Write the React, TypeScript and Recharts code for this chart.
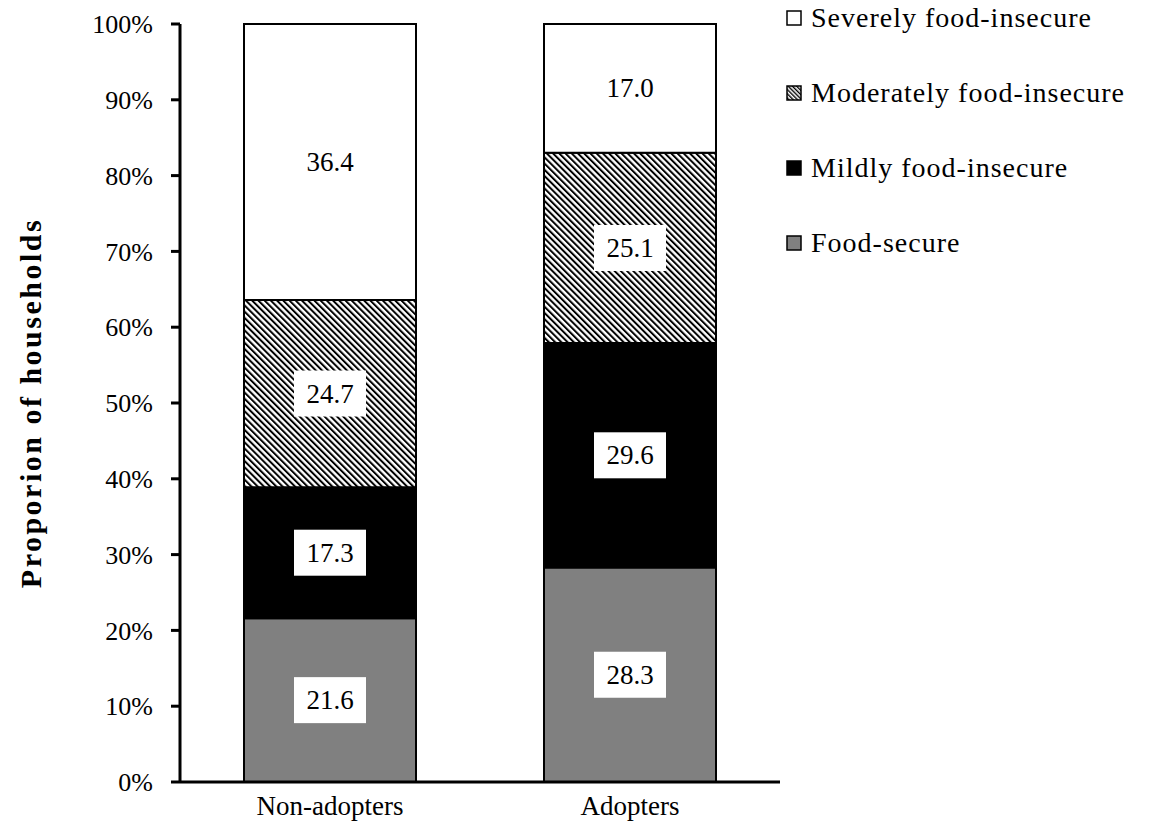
import { BarChart, Bar, XAxis, YAxis, Legend, LabelList } from 'recharts';

const groups = ['Non-adopters', 'Adopters'];
const foodSecure = [21.6, 28.3];
const mildlyInsecure = [17.3, 29.6];
const moderatelyInsecure = [24.7, 25.1];
const severelyInsecure = [36.4, 17.0];
const yTicks = [0, 10, 20, 30, 40, 50, 60, 70, 80, 90, 100];

const FONT = '"Liberation Serif", "DejaVu Serif", serif';

const rows = groups.map((name, i) => ({
  name,
  secure: foodSecure[i],
  mild: mildlyInsecure[i],
  moderate: moderatelyInsecure[i],
  severe: severelyInsecure[i],
}));

const legendItems = [
  { label: 'Severely food-insecure', fill: '#ffffff' },
  { label: 'Moderately food-insecure', fill: 'hatch' },
  { label: 'Mildly food-insecure', fill: '#000000' },
  { label: 'Food-secure', fill: '#808080' },
];

const ValueBox = (props: any) => {
  const { x, y, width, height, value } = props;
  const cx = x + width / 2;
  const cy = y + height / 2;
  const w = 72;
  const h = 46;
  return (
    <g>
      <rect x={cx - w / 2} y={cy - h / 2} width={w} height={h} fill="#ffffff" />
      <text
        x={cx}
        y={cy}
        textAnchor="middle"
        dominantBaseline="central"
        fontFamily={FONT}
        fontSize={27}
        fill="#000"
      >
        {Number(value).toFixed(1)}
      </text>
    </g>
  );
};

const LegendBox = () => (
  <div style={{ fontFamily: FONT, fontSize: 28, letterSpacing: 1, color: '#000' }}>
    {legendItems.map((item) => (
      <div key={item.label} style={{ display: 'flex', alignItems: 'center', height: 75 }}>
        <svg width={16} height={16} style={{ marginRight: 9 }}>
          <defs>
            <pattern id="hatchSmall" width={3} height={3} patternUnits="userSpaceOnUse" patternTransform="rotate(-45)">
              <rect x={0} y={0} width={3} height={3} fill="#fff" />
              <rect x={0} y={0} width={1.4} height={3} fill="#000" />
            </pattern>
          </defs>
          <rect
            x={1}
            y={1}
            width={14}
            height={14}
            fill={item.fill === 'hatch' ? 'url(#hatchSmall)' : item.fill}
            stroke="#000"
            strokeWidth={1.5}
          />
        </svg>
        <span>{item.label}</span>
      </div>
    ))}
  </div>
);

const YTitle = (props: any) => {
  const { viewBox } = props;
  const cy = viewBox.y + viewBox.height / 2;
  return (
    <text
      x={30}
      y={cy}
      transform={`rotate(-90, 30, ${cy})`}
      textAnchor="middle"
      dominantBaseline="central"
      fontFamily={FONT}
      fontSize={30}
      fontWeight="bold"
      letterSpacing={2.5}
      fill="#000"
    >
      Proporion of households
    </text>
  );
};

export default function App() {
  return (
    <div style={{ position: 'absolute', left: 0, top: 0, background: '#fff' }}>
      <BarChart
        width={1169}
        height={839}
        data={rows}
        margin={{ top: 24, right: 6, bottom: 0, left: 0 }}
        barSize={172}
      >
        <defs>
          <pattern id="hatch" width={4.4} height={4.4} patternUnits="userSpaceOnUse" patternTransform="rotate(-45)">
            <rect x={0} y={0} width={4.4} height={4.4} fill="#fff" />
            <rect x={0} y={0} width={2} height={4.4} fill="#000" />
          </pattern>
        </defs>
        <XAxis
          dataKey="name"
          height={57}
          interval={0}
          tickLine={false}
          tickSize={0}
          tickMargin={14}
          axisLine={{ stroke: '#000', strokeWidth: 3 }}
          tick={{ fontFamily: FONT, fontSize: 27, fill: '#000' }}
        />
        <YAxis
          width={180}
          domain={[0, 100]}
          ticks={yTicks}
          interval={0}
          tickFormatter={(v: number) => `${v}%`}
          tickSize={9}
          tickMargin={18}
          tickLine={{ stroke: '#000', strokeWidth: 3 }}
          axisLine={{ stroke: '#000', strokeWidth: 3 }}
          tick={{ fontFamily: FONT, fontSize: 26, fill: '#000' }}
          label={<YTitle />}
        />
        <Legend
          layout="vertical"
          align="right"
          verticalAlign="top"
          wrapperStyle={{ left: 786, top: -20, width: 383 }}
          content={<LegendBox />}
        />
        <Bar dataKey="secure" stackId="a" fill="#808080" stroke="#000" strokeWidth={2} isAnimationActive={false}>
          <LabelList dataKey="secure" content={<ValueBox />} />
        </Bar>
        <Bar dataKey="mild" stackId="a" fill="#000000" stroke="#000" strokeWidth={2} isAnimationActive={false}>
          <LabelList dataKey="mild" content={<ValueBox />} />
        </Bar>
        <Bar dataKey="moderate" stackId="a" fill="url(#hatch)" stroke="#000" strokeWidth={2} isAnimationActive={false}>
          <LabelList dataKey="moderate" content={<ValueBox />} />
        </Bar>
        <Bar dataKey="severe" stackId="a" fill="#ffffff" stroke="#000" strokeWidth={2} isAnimationActive={false}>
          <LabelList dataKey="severe" content={<ValueBox />} />
        </Bar>
      </BarChart>
    </div>
  );
}
